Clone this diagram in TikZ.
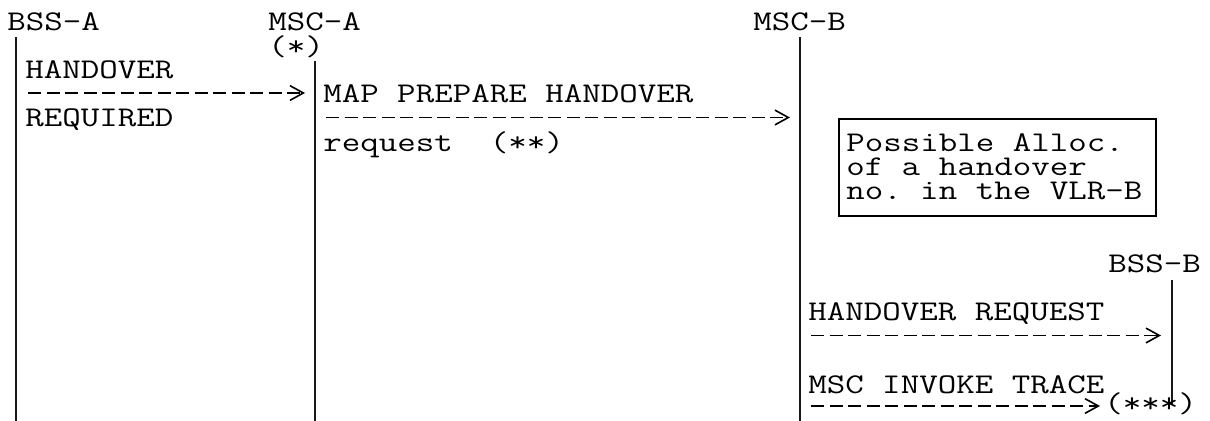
\documentclass[tikz,border=0pt]{standalone}
\usetikzlibrary{arrows.meta}
% monospaced message font, widened to the cell pitch of the chart
\newlength\cellw
\newcommand\monofont{\ttfamily\fontsize{21.4pt}{24pt}\selectfont\frenchspacing}
\newcommand\stx{\scalebox{\cellscale}[1]}
\begin{document}
\settowidth\cellw{\monofont M}%
\ifdim\cellw<1pt \cellw=11.2pt\fi
\pgfmathparse{13.875pt/\cellw}\xdef\cellscale{\pgfmathresult}%
\begin{tikzpicture}[x=0.75pt,y=-0.75pt,
  lbl/.style={anchor=base west, inner sep=0pt, font=\monofont},
  life/.style={line width=1.3pt, black!90},
  msg/.style={line width=1.45pt, dash pattern=on 9.75pt off 4.125pt,
              -{Straight Barb[length=10pt,width=11pt,line width=1.2pt]}},
  allocbox/.style={draw, line width=1.5pt, inner sep=0pt,
                   minimum width=237.75pt, minimum height=72.75pt}]
\useasboundingbox (0,0) rectangle (1210,421);

% entities
\node[lbl] (bssa)  at (7,30)    {\stx{BSS-A}};
\node[lbl] (msca)  at (268,30)  {\stx{MSC-A}};
\node[lbl] (star1) at (268,55.5)  {\stx{(*)}};
\node[lbl] (mscb)  at (753,30)  {\stx{MSC-B}};
\node[lbl] (bssb)  at (1108,272) {\stx{BSS-B}};

% life lines
\coordinate (bssaTop) at (16,37);    \coordinate (bssaEnd) at (16,421);
\coordinate (mscaTop) at (315,61);   \coordinate (mscaEnd) at (315,421);
\coordinate (mscbTop) at (800,37);   \coordinate (mscbEnd) at (800,421);
\coordinate (bssbTop) at (1172,280); \coordinate (bssbEnd) at (1172,404);
\draw[life] (bssaTop) -- (bssaEnd);
\draw[life] (mscaTop) -- (mscaEnd);
\draw[life] (mscbTop) -- (mscbEnd);
\draw[life] (bssbTop) -- (bssbEnd);

% BSS-A -> MSC-A
\node[lbl] (ho)  at (25,78.4)  {\stx{HANDOVER}};
\node[lbl] (req) at (25,126.8) {\stx{REQUIRED}};
\coordinate (m1a) at (28,93); \coordinate (m1b) at (305,93);
\draw[msg] (m1a) -- (m1b);

% MSC-A -> MSC-B
\node[lbl] (map)    at (323,102.6) {\stx{MAP PREPARE HANDOVER}};
\node[lbl] (mapreq) at (323,151)   {\stx{request~~(**)}};
\coordinate (m2a) at (326,117.5); \coordinate (m2b) at (790,117.5);
\draw[msg] (m2a) -- (m2b);

% allocation in the VLR-B
\node[allocbox, anchor=north west] (alloc) at (838,118) {};
\node[lbl] (al1) at (846,151)   {\stx{Possible Alloc.}};
\node[lbl] (al2) at (846,175.2) {\stx{of a handover}};
\node[lbl] (al3) at (846,199.4) {\stx{no. in the VLR-B}};

% MSC-B -> BSS-B
\node[lbl] (hreq) at (808,320.4) {\stx{HANDOVER REQUEST}};
\coordinate (m3a) at (811,335.5); \coordinate (m3b) at (1161,335.5);
\draw[msg] (m3a) -- (m3b);

\node[lbl] (trace) at (808,393) {\stx{MSC INVOKE TRACE}};
\coordinate (m4a) at (811,406); \coordinate (m4b) at (1100,406);
\draw[msg] (m4a) -- (m4b);
\node[lbl] (stars) at (1104,412) {\stx{(***)}};
\end{tikzpicture}
\end{document}
